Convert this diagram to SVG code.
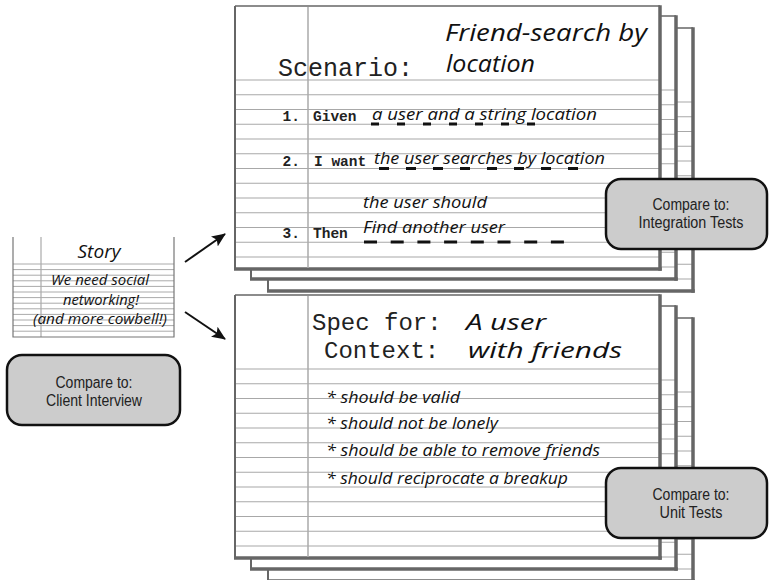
<svg xmlns="http://www.w3.org/2000/svg" xmlns:xlink="http://www.w3.org/1999/xlink" width="769" height="580" viewBox="0 0 769 580">
<style>
.hand{font-family:"Open Sans","DejaVu Sans",sans-serif;font-style:italic;fill:#111}
.mono{font-family:"Liberation Mono","Courier New",monospace;fill:#222}
.monob{font-family:"Liberation Mono","Courier New",monospace;font-weight:bold;fill:#222;font-size:14.5px}
.rule{stroke:#a8a8a8;stroke-width:1.2}
.margin{stroke:#aaaaaa;stroke-width:1.5}
.edge{stroke:#666;fill:none}
.box{fill:#cccccc;stroke:#111;stroke-width:2.5}
.boxt{font-family:"Liberation Sans Narrow","Liberation Sans",Arial,sans-serif;font-size:16px;fill:#222;text-anchor:middle}
.dash{stroke:#111;stroke-width:3;fill:none}
.srule{stroke:#aaa;stroke-width:1}
.conn{stroke:#111;stroke-width:2;fill:none}
</style>
<defs>
<marker id="ah" markerUnits="userSpaceOnUse" markerWidth="14" markerHeight="12" refX="13" refY="6" orient="auto">
<path d="M0,0 L14,6 L0,12 L3,6 z" fill="#111"/>
</marker>
<g id="sheet">
<rect x="0" y="0" width="425" height="263" fill="#fff"/>
<g class="rule">
<line x1="0" y1="74" x2="425" y2="74"/>
<line x1="0" y1="88.75" x2="425" y2="88.75"/>
<line x1="0" y1="103.5" x2="425" y2="103.5"/>
<line x1="0" y1="118.25" x2="425" y2="118.25"/>
<line x1="0" y1="133" x2="425" y2="133"/>
<line x1="0" y1="147.75" x2="425" y2="147.75"/>
<line x1="0" y1="162.5" x2="425" y2="162.5"/>
<line x1="0" y1="177.25" x2="425" y2="177.25"/>
<line x1="0" y1="192" x2="425" y2="192"/>
<line x1="0" y1="206.75" x2="425" y2="206.75"/>
<line x1="0" y1="221.5" x2="425" y2="221.5"/>
<line x1="0" y1="236.25" x2="425" y2="236.25"/>
<line x1="0" y1="251" x2="425" y2="251"/>
</g>
<path class="edge" stroke-width="1.5" d="M0,0 H425"/>
<path class="edge" stroke-width="2" d="M0,0 V263"/>
<path class="edge" stroke-width="3.5" d="M425,-0.75 V264.75"/>
<path class="edge" stroke-width="3.5" d="M-1,263 H426.75"/>
</g>
</defs>
<rect width="769" height="580" fill="#fff"/>

<g id="story">
<g class="srule">
<line x1="13" y1="264" x2="174" y2="264"/>
<line x1="13" y1="269.6" x2="174" y2="269.6"/>
<line x1="13" y1="275.2" x2="174" y2="275.2"/>
<line x1="13" y1="280.8" x2="174" y2="280.8"/>
<line x1="13" y1="286.4" x2="174" y2="286.4"/>
<line x1="13" y1="292" x2="174" y2="292"/>
<line x1="13" y1="297.6" x2="174" y2="297.6"/>
<line x1="13" y1="303.2" x2="174" y2="303.2"/>
<line x1="13" y1="308.8" x2="174" y2="308.8"/>
<line x1="13" y1="314.4" x2="174" y2="314.4"/>
<line x1="13" y1="320" x2="174" y2="320"/>
<line x1="13" y1="325.6" x2="174" y2="325.6"/>
<line x1="13" y1="331.2" x2="174" y2="331.2"/>
</g>
<line x1="41" y1="237" x2="41" y2="337" stroke="#aaa" stroke-width="1.2"/>
<path d="M13,237 V337 H174 V237" fill="none" stroke="#777" stroke-width="1.2"/>
<text class="hand" x="99" y="258" font-size="18" text-anchor="middle" textLength="43" lengthAdjust="spacingAndGlyphs">Story</text>
<text class="hand" x="100" y="285" font-size="14" text-anchor="middle" textLength="98" lengthAdjust="spacingAndGlyphs">We need social</text>
<text class="hand" x="101" y="305" font-size="14" text-anchor="middle" textLength="76" lengthAdjust="spacingAndGlyphs">networking!</text>
<text class="hand" x="100" y="324" font-size="14" text-anchor="middle" textLength="134" lengthAdjust="spacingAndGlyphs">(and more cowbell!)</text>
</g>

<g id="client-box">
<rect class="box" x="7" y="355" width="173" height="70" rx="15"/>
<text class="boxt" x="94" y="388" textLength="77" lengthAdjust="spacingAndGlyphs">Compare to:</text>
<text class="boxt" x="94" y="406" textLength="96" lengthAdjust="spacingAndGlyphs">Client Interview</text>
</g>

<g id="scenario-card">
<use xlink:href="#sheet" x="268" y="28"/>
<use xlink:href="#sheet" x="251" y="16"/>
<use xlink:href="#sheet" x="235" y="6"/>
<line class="margin" x1="308" y1="7" x2="308" y2="268"/>
<text class="hand" x="445" y="41" font-size="24" textLength="202" lengthAdjust="spacingAndGlyphs">Friend-search by</text>
<text class="mono" x="278" y="76" font-size="25">Scenario:</text>
<text class="hand" x="446" y="72" font-size="24" textLength="89" lengthAdjust="spacingAndGlyphs">location</text>
<text class="monob" x="300" y="121" text-anchor="end">1.</text>
<text class="monob" x="313" y="121">Given</text>
<text class="hand" x="372" y="120" font-size="15.5" textLength="225" lengthAdjust="spacingAndGlyphs">a user and a string location</text>
<path class="dash" d="M371,124 H545" stroke-dasharray="8 18"/>
<text class="monob" x="300" y="166" text-anchor="end">2.</text>
<text class="monob" x="314" y="166">I want</text>
<text class="hand" x="374" y="164" font-size="15.5" textLength="231" lengthAdjust="spacingAndGlyphs">the user searches by location</text>
<path class="dash" d="M379,168.5 H580" stroke-dasharray="10 17"/>
<text class="hand" x="363" y="208" font-size="15.5" textLength="124" lengthAdjust="spacingAndGlyphs">the user should</text>
<text class="monob" x="300" y="238" text-anchor="end">3.</text>
<text class="monob" x="313" y="238">Then</text>
<text class="hand" x="363" y="233" font-size="15.5" textLength="142" lengthAdjust="spacingAndGlyphs">Find another user</text>
<path class="dash" d="M364,242 H565" stroke-dasharray="13 13.7"/>
</g>

<g id="spec-card">
<use xlink:href="#sheet" x="268" y="318"/>
<use xlink:href="#sheet" x="251" y="306"/>
<use xlink:href="#sheet" x="235" y="295"/>
<line class="margin" x1="308" y1="296" x2="308" y2="557"/>
<text class="mono" x="312" y="330" font-size="24">Spec for:</text>
<text class="hand" x="466" y="330" font-size="22" textLength="80" lengthAdjust="spacingAndGlyphs">A user</text>
<text class="mono" x="324" y="358" font-size="24">Context:</text>
<text class="hand" x="468" y="358" font-size="22" textLength="154" lengthAdjust="spacingAndGlyphs">with friends</text>
<text class="hand" x="326" y="403" font-size="15.5" textLength="134" lengthAdjust="spacingAndGlyphs">* should be valid</text>
<text class="hand" x="326" y="429" font-size="15.5" textLength="172" lengthAdjust="spacingAndGlyphs">* should not be lonely</text>
<text class="hand" x="326" y="456" font-size="15.5" textLength="274" lengthAdjust="spacingAndGlyphs">* should be able to remove friends</text>
<text class="hand" x="326" y="484" font-size="15.5" textLength="242" lengthAdjust="spacingAndGlyphs">* should reciprocate a breakup</text>
</g>

<g id="integration-box">
<rect class="box" x="606" y="179" width="161" height="70" rx="15"/>
<text class="boxt" x="691" y="210" textLength="77" lengthAdjust="spacingAndGlyphs">Compare to:</text>
<text class="boxt" x="691" y="228" textLength="105" lengthAdjust="spacingAndGlyphs">Integration Tests</text>
</g>

<g id="unit-box">
<rect class="box" x="606" y="468" width="161" height="70" rx="15"/>
<text class="boxt" x="691" y="500" textLength="77" lengthAdjust="spacingAndGlyphs">Compare to:</text>
<text class="boxt" x="691" y="518" textLength="63" lengthAdjust="spacingAndGlyphs">Unit Tests</text>
</g>

<g id="connectors">
<line class="conn" x1="185" y1="262" x2="225" y2="234" marker-end="url(#ah)"/>
<line class="conn" x1="185" y1="312" x2="225" y2="339" marker-end="url(#ah)"/>
</g>
</svg>
